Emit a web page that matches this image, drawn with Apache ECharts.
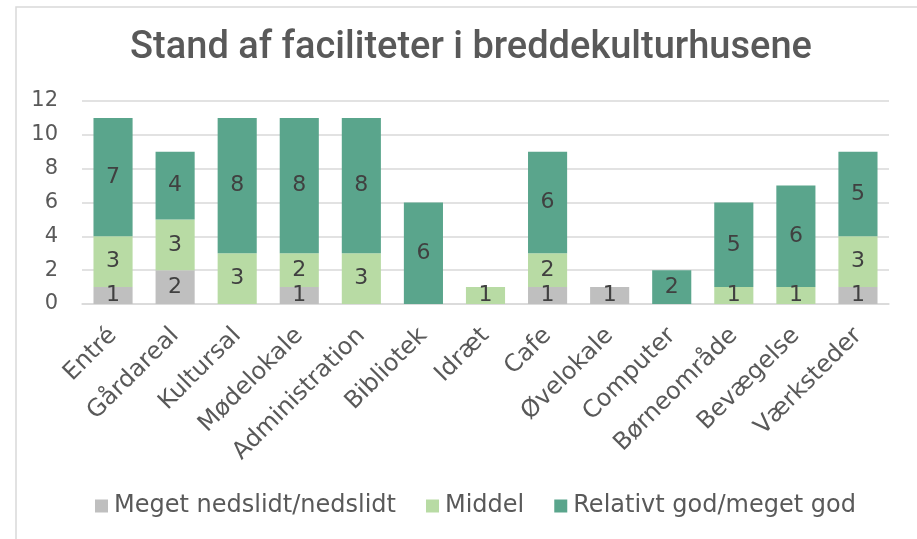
<!DOCTYPE html>
<html><head><meta charset="utf-8">
<script src="https://cdn.jsdelivr.net/npm/echarts@6/dist/echarts.min.js"></script>
<style>html,body{margin:0;padding:0;background:#fff}#c{width:917px;height:539px}</style>
</head><body><div id="c"></div>
<script>
const categories = ['Entré','Gårdareal','Kultursal','Mødelokale','Administration','Bibliotek','Idræt','Cafe','Øvelokale','Computer','Børneområde','Bevægelse','Værksteder'];
const seriesNames = ['Meget nedslidt/nedslidt','Middel','Relativt god/meget god'];
const nedslidt = [1,2,0,1,0,0,0,1,1,0,0,0,1];
const middel   = [3,3,3,2,3,0,1,2,0,0,1,1,3];
const god      = [7,4,8,8,8,6,0,6,0,2,5,6,5];
const yTicks = [0,2,4,6,8,10,12];
const colors = ['#BFBFBF','#B8DBA4','#5AA58C'];

const FONT = 'DejaVu Sans';
const TXT = '#595959';
const chart = echarts.init(document.getElementById('c'), null, {renderer:'canvas'});
const mk = (name, data, i) => ({
  name, type:'bar', stack:'s', data, barWidth:'63%',
  itemStyle:{color:colors[i]},
  label:{show:true, position:'inside', color:'#404040', fontFamily:FONT, fontSize:22,
    formatter:p => p.value === 0 ? '' : String(p.value)}
});
chart.setOption({
  animation:false,
  title:{text:'Stand af faciliteter i breddekulturhusene', left:466, top:24, textAlign:'center',
    textStyle:{fontFamily:'Roboto', fontSize:38, fontWeight:500, color:TXT}},
  graphic:[{type:'polyline', shape:{points:[[16,539],[16,7],[917,7]]}, style:{stroke:'#D9D9D9', lineWidth:1.5, fill:null}}],
  legend:{bottom:16, left:90, itemWidth:13, itemHeight:13, itemGap:30, icon:'rect',
    textStyle:{fontFamily:FONT, fontSize:24, color:TXT, padding:[0,0,0,1]}, data:seriesNames},
  grid:{left:82, right:28, top:101, bottom:235},
  xAxis:{type:'category', data:categories,
    axisLine:{lineStyle:{color:'#D9D9D9', width:1.5}}, axisTick:{show:false},
    axisLabel:{rotate:45, interval:0, fontFamily:FONT, fontSize:24, color:TXT, margin:28}},
  yAxis:{type:'value', min:0, max:12, interval:2,
    splitLine:{lineStyle:{color:'#D9D9D9', width:1.5}},
    axisLabel:{fontFamily:FONT, fontSize:21, color:TXT, margin:24,
      formatter:v => yTicks.includes(v) ? String(v) : ''}},
  series:[mk(seriesNames[0], nedslidt, 0), mk(seriesNames[1], middel, 1), mk(seriesNames[2], god, 2)]
});
</script></body></html>
